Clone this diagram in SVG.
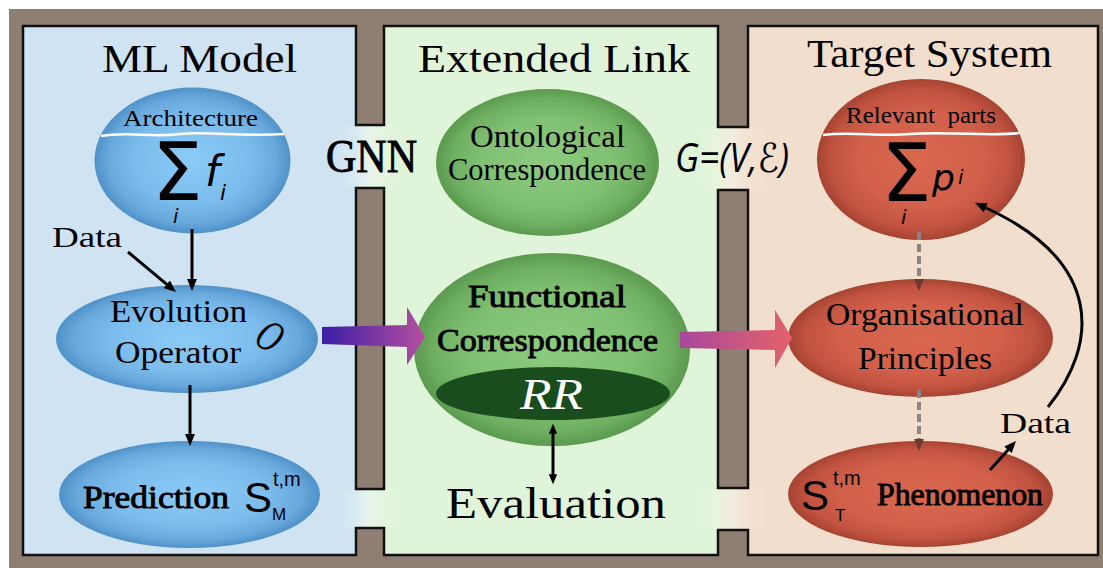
<svg xmlns="http://www.w3.org/2000/svg" width="1103" height="568" viewBox="0 0 1103 568">
<style>
.serif{font-family:"Liberation Serif","DejaVu Serif",serif;fill:#000}
.sans{font-family:"Liberation Sans","DejaVu Sans",sans-serif;fill:#000}
.dv{font-family:"DejaVu Sans",sans-serif;fill:#000}
.semi{stroke:#000;stroke-width:0.9}
.panel{stroke:#111;stroke-width:2.5}
.bl{stroke:#111;stroke-width:2.5}
.arr{stroke:#000;stroke-width:3;fill:none}
.dash{stroke:#8c8480;stroke-width:4;stroke-dasharray:8 4;fill:none}
.wave{stroke:#fff;stroke-width:2.5;fill:none}
</style>
<defs>
<radialGradient id="gBlue" cx="0.5" cy="0.5" r="0.5">
<stop offset="0" stop-color="#8acbf7"/><stop offset="0.6" stop-color="#7cbcec"/><stop offset="0.86" stop-color="#68a8dc"/><stop offset="1" stop-color="#4f92c8"/>
</radialGradient>
<radialGradient id="gGreen" cx="0.5" cy="0.5" r="0.5">
<stop offset="0" stop-color="#8ccb7e"/><stop offset="0.6" stop-color="#80c072"/><stop offset="0.86" stop-color="#6eae60"/><stop offset="1" stop-color="#5b9a4f"/>
</radialGradient>
<radialGradient id="gRed" cx="0.5" cy="0.5" r="0.5">
<stop offset="0" stop-color="#d9684f"/><stop offset="0.6" stop-color="#d2604a"/><stop offset="0.86" stop-color="#c15340"/><stop offset="1" stop-color="#a64333"/>
</radialGradient>
<linearGradient id="bridgeL" x1="0" y1="0" x2="1" y2="0">
<stop offset="0" stop-color="#cfe3f2"/><stop offset="0.3" stop-color="#d8eaf2"/><stop offset="0.5" stop-color="#eaf4ea"/><stop offset="0.7" stop-color="#e3f5dd"/><stop offset="1" stop-color="#e0f4da"/>
</linearGradient>
<linearGradient id="bridgeR" x1="0" y1="0" x2="1" y2="0">
<stop offset="0" stop-color="#e0f4da"/><stop offset="0.3" stop-color="#e8f4dc"/><stop offset="0.5" stop-color="#f2ede0"/><stop offset="0.7" stop-color="#f3e2d2"/><stop offset="1" stop-color="#f2decd"/>
</linearGradient>
<linearGradient id="bigL" gradientUnits="userSpaceOnUse" x1="322" y1="0" x2="425" y2="0">
<stop offset="0" stop-color="#3a1ea6"/><stop offset="1" stop-color="#b54fa0"/>
</linearGradient>
<linearGradient id="bigR" gradientUnits="userSpaceOnUse" x1="680" y1="0" x2="792" y2="0">
<stop offset="0" stop-color="#a8489c"/><stop offset="1" stop-color="#e4626a"/>
</linearGradient>
<marker id="ah" viewBox="0 0 12 10" refX="2" refY="5" markerWidth="12" markerHeight="10" markerUnits="userSpaceOnUse" orient="auto-start-reverse">
<path d="M0,0 L12,5 L0,10 z" fill="#000"/>
</marker>
<marker id="ahs" viewBox="0 0 12 10" refX="2" refY="5" markerWidth="10" markerHeight="9" markerUnits="userSpaceOnUse" orient="auto-start-reverse">
<path d="M0,0 L12,5 L0,10 z" fill="#000"/>
</marker>
<marker id="ahb" viewBox="0 0 12 10" refX="2" refY="5" markerWidth="12" markerHeight="10" markerUnits="userSpaceOnUse" orient="auto">
<path d="M0,0 L12,5 L0,10 z" fill="#6e3a2f"/>
</marker>
</defs>

<rect x="9" y="9" width="1094" height="559" fill="#8e7f72"/>

<g id="panels">
<rect class="panel" x="23" y="26" width="333" height="529" fill="#cfe3f2"/>
<rect class="panel" x="384" y="26" width="334" height="529" fill="#e0f4da"/>
<rect class="panel" x="748" y="26" width="350" height="529" fill="#f2decd"/>
</g>

<g id="bridges">
<rect x="335" y="126" width="70" height="61" fill="url(#bridgeL)"/>
<rect x="335" y="490" width="70" height="37" fill="url(#bridgeL)"/>
<rect x="698" y="128" width="70" height="61" fill="url(#bridgeR)"/>
<rect x="698" y="489" width="70" height="40" fill="url(#bridgeR)"/>
<path class="bl" d="M355,125 H385 M355,188 H385 M355,489 H385 M355,528 H385 M717,127 H749 M717,190 H749 M717,488 H749 M717,530 H749" fill="none"/>
</g>

<g id="titles">
<text class="serif" x="199.5" y="72" font-size="40" text-anchor="middle" textLength="195" lengthAdjust="spacingAndGlyphs">ML Model</text>
<text class="serif" x="554" y="72" font-size="40" text-anchor="middle" textLength="272" lengthAdjust="spacingAndGlyphs">Extended Link</text>
<text class="serif" x="929.5" y="67" font-size="40" text-anchor="middle" textLength="245" lengthAdjust="spacingAndGlyphs">Target System</text>
<text class="serif semi" x="371.5" y="172" font-size="46" text-anchor="middle" textLength="91" lengthAdjust="spacingAndGlyphs">GNN</text>
<text x="732" y="172" font-size="40" font-style="italic" text-anchor="middle" textLength="114" lengthAdjust="spacingAndGlyphs" style="font-family:'Open Sans','DejaVu Sans',sans-serif">G=(V,ℰ)</text>
<text class="serif" x="556" y="518" font-size="44" text-anchor="middle" textLength="220" lengthAdjust="spacingAndGlyphs">Evaluation</text>
</g>

<g id="node-architecture">
<ellipse cx="192.5" cy="160.5" rx="98" ry="73" fill="url(#gBlue)"/>
<text class="serif" x="190.5" y="126" font-size="24" text-anchor="middle" textLength="135" lengthAdjust="spacingAndGlyphs">Architecture</text>
<path class="wave" d="M101,136 C130,131 150,138 180,134 C210,131 240,137 284,134"/>
<text class="dv" x="152" y="200" font-size="80">Σ<tspan x="173" y="223" font-size="20" font-style="italic">i</tspan><tspan x="205" y="186" font-size="42" font-style="italic">f</tspan><tspan x="220" y="200" font-size="22" font-style="italic">i</tspan></text>
</g>

<g id="node-data-left">
<text class="serif" x="87" y="247" font-size="30" text-anchor="middle" textLength="70" lengthAdjust="spacingAndGlyphs">Data</text>
</g>

<g id="node-evolution">
<ellipse cx="187" cy="339" rx="131" ry="54" fill="url(#gBlue)"/>
<text class="serif" x="178.5" y="322" font-size="31" text-anchor="middle" textLength="137" lengthAdjust="spacingAndGlyphs">Evolution</text>
<text class="serif" x="178" y="363" font-size="31" text-anchor="middle" textLength="126" lengthAdjust="spacingAndGlyphs">Operator</text>
<text x="0" y="14" font-size="40" font-style="italic" text-anchor="middle" style="font-family:'DejaVu Serif',serif" transform="translate(270 337) rotate(32) scale(0.72 1)">O</text>
</g>

<g id="node-prediction">
<ellipse cx="189.5" cy="494.5" rx="130.5" ry="53.5" fill="url(#gBlue)"/>
<text class="serif semi" x="156" y="508" font-size="32" text-anchor="middle" textLength="146" lengthAdjust="spacingAndGlyphs">Prediction</text>
<text class="sans" x="244" y="512" font-size="42">S</text>
<text class="sans" x="273" y="486" font-size="20">t,m</text>
<text class="sans" x="272" y="520" font-size="17">M</text>
</g>

<g id="node-ontological">
<ellipse cx="547.5" cy="162.5" rx="111.5" ry="73.5" fill="url(#gGreen)"/>
<text class="serif" x="547.5" y="147" font-size="31" text-anchor="middle" textLength="155" lengthAdjust="spacingAndGlyphs">Ontological</text>
<text class="serif" x="547" y="180" font-size="31" text-anchor="middle" textLength="198" lengthAdjust="spacingAndGlyphs">Correspondence</text>
</g>

<g id="node-functional">
<ellipse cx="552" cy="349.5" rx="138" ry="96.5" fill="url(#gGreen)"/>
<text class="serif semi" x="547" y="307" font-size="32" text-anchor="middle" textLength="158" lengthAdjust="spacingAndGlyphs">Functional</text>
<text class="serif semi" x="547.5" y="351" font-size="32" text-anchor="middle" textLength="221" lengthAdjust="spacingAndGlyphs">Correspondence</text>
<ellipse cx="553" cy="393.5" rx="117" ry="26.5" fill="#1a4d1d"/>
<text class="serif" x="551.5" y="409" font-size="44" font-style="italic" text-anchor="middle" style="fill:#fff" textLength="63" lengthAdjust="spacingAndGlyphs">RR</text>
</g>

<g id="node-relevant">
<ellipse cx="921" cy="159.5" rx="104" ry="80.5" fill="url(#gRed)"/>
<text class="serif" x="921" y="123" font-size="24" text-anchor="middle" textLength="150" lengthAdjust="spacingAndGlyphs" xml:space="preserve">Relevant  parts</text>
<path class="wave" d="M823,135 C850,131 880,137 910,134 C950,131 990,137 1019,133"/>
<text class="dv" x="881" y="201" font-size="80">Σ<tspan x="901" y="224" font-size="20" font-style="italic">i</tspan><tspan x="932" y="190" font-size="36" font-style="italic">p</tspan><tspan x="958" y="184" font-size="20" font-style="italic">i</tspan></text>
</g>

<g id="node-organisational">
<ellipse cx="920.5" cy="338" rx="132.5" ry="59" fill="url(#gRed)"/>
<text class="serif" x="925" y="325" font-size="31" text-anchor="middle" textLength="198" lengthAdjust="spacingAndGlyphs">Organisational</text>
<text class="serif" x="925" y="369" font-size="31" text-anchor="middle" textLength="134" lengthAdjust="spacingAndGlyphs">Principles</text>
</g>

<g id="node-phenomenon">
<ellipse cx="920.5" cy="494" rx="132.5" ry="53" fill="url(#gRed)"/>
<text class="sans" x="801" y="510" font-size="42">S</text>
<text class="sans" x="833" y="485" font-size="20">t,m</text>
<text class="sans" x="835" y="521" font-size="17">T</text>
<text class="serif semi" x="960" y="505" font-size="32" text-anchor="middle" textLength="166" lengthAdjust="spacingAndGlyphs">Phenomenon</text>
</g>

<g id="node-data-right">
<text class="serif" x="1035.5" y="433" font-size="30" text-anchor="middle" textLength="71" lengthAdjust="spacingAndGlyphs">Data</text>
</g>

<g id="connectors">
<path d="M322,327 L407,325 L407,307 L425,337 L407,365 L407,347 L322,344 z" fill="url(#bigL)"/>
<path d="M680,332 L775,330 L775,310 L792,338 L775,368 L775,350 L680,348 z" fill="url(#bigR)"/>
<line class="arr" x1="192" y1="229" x2="192" y2="281" marker-end="url(#ah)"/>
<line class="arr" x1="128" y1="252" x2="168.3" y2="285.6" marker-end="url(#ah)"/>
<line class="arr" x1="190" y1="385" x2="190" y2="436" marker-end="url(#ah)"/>
<line class="arr" x1="553" y1="432" x2="553" y2="476" stroke-width="2.5" marker-start="url(#ahs)" marker-end="url(#ahs)"/>
<line class="dash" x1="919" y1="232" x2="919" y2="281" marker-end="url(#ahb)"/>
<line class="dash" x1="919" y1="390" x2="919" y2="441" marker-end="url(#ahb)"/>
<line class="arr" x1="990" y1="470" x2="1009.3" y2="448.4" marker-end="url(#ah)"/>
<path class="arr" d="M1048,407 C1098,345 1105,262 984,207" marker-end="url(#ah)"/>
</g>
</svg>
